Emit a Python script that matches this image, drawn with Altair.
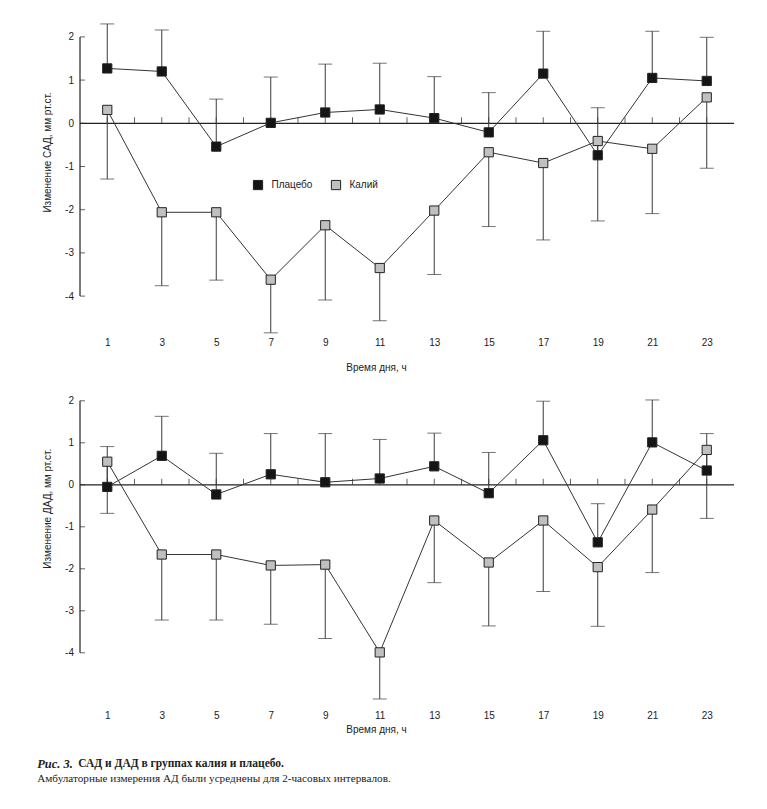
import altair as alt
import pandas as pd

# ---------------- data ----------------
hours = [1, 3, 5, 7, 9, 11, 13, 15, 17, 19, 21, 23]
groups = ["Плацебо", "Калий"]

# Top panel: change of systolic BP (САД)
sad_placebo = [1.27, 1.20, -0.54, 0.01, 0.25, 0.32, 0.12, -0.21, 1.15, -0.74, 1.05, 0.98]
sad_placebo_hi = [2.30, 2.16, 0.56, 1.07, 1.37, 1.39, 1.08, 0.71, 2.13, 0.36, 2.13, 1.99]
sad_kalii = [0.31, -2.06, -2.06, -3.62, -2.36, -3.35, -2.02, -0.67, -0.92, -0.41, -0.59, 0.60]
sad_kalii_lo = [-1.29, -3.76, -3.63, -4.85, -4.09, -4.57, -3.50, -2.39, -2.70, -2.26, -2.09, -1.04]

# Bottom panel: change of diastolic BP (ДАД)
dad_placebo = [-0.05, 0.69, -0.23, 0.25, 0.06, 0.15, 0.44, -0.20, 1.06, -1.37, 1.01, 0.34]
dad_placebo_hi = [0.91, 1.63, 0.75, 1.22, 1.22, 1.08, 1.23, 0.77, 1.99, -0.45, 2.02, 1.22]
dad_kalii = [0.55, -1.66, -1.66, -1.92, -1.90, -3.99, -0.85, -1.85, -0.85, -1.96, -0.59, 0.83]
dad_kalii_lo = [-0.68, -3.22, -3.22, -3.32, -3.66, -5.10, -2.33, -3.36, -2.54, -3.37, -2.09, -0.80]

y_ticks = [-4, -3, -2, -1, 0, 1, 2]
hour_ticks = list(range(1, 24))

x_title = "Время дня, ч"
y_title_top = "Изменение САД, мм рт.ст."
y_title_bottom = "Изменение ДАД, мм рт.ст."
caption_lead = "Рис. 3."
caption_bold = "САД и ДАД в группах калия и плацебо."
caption_note = "Амбулаторные измерения АД были усреднены для 2-часовых интервалов."

SANS = "Liberation Sans"
SERIF = "Liberation Serif"
INK = "#222222"
WIDTH = 654


def panel(placebo, placebo_hi, kalii, kalii_lo, ytitle, ydom, height,
          ytitle_y, xtitle_y, legend_y, extra=None):
    df = pd.DataFrame({
        "hour": hours * 2,
        "group": [groups[0]] * len(hours) + [groups[1]] * len(hours),
        "value": placebo + kalii,
        "end": placebo_hi + kalii_lo,
    })
    xs = alt.Scale(domain=[0, 24], nice=False, zero=False)
    ys = alt.Scale(domain=ydom, nice=False, zero=False)
    x_axis = alt.Axis(values=hours, domain=False, ticks=False, tickSize=0, grid=False,
                      labelPadding=3, labelFont=SANS, labelFontSize=10, labelColor=INK,
                      title=x_title, titleFont=SANS, titleFontSize=10, titleFontWeight="normal",
                      titleColor=INK, titleX=296, titleY=xtitle_y, titleBaseline="middle",
                      titleAlign="center")
    y_axis = alt.Axis(values=y_ticks, domain=False, ticks=False, tickSize=0, grid=False,
                      labelPadding=6.5, labelFont=SANS, labelFontSize=10, labelColor=INK,
                      labelFlush=False, labelExpr="'' + datum.value",
                      title=ytitle, titleFont=SANS, titleFontSize=10, titleFontWeight="normal",
                      titleColor=INK, titleX=-33, titleY=ytitle_y, titleAngle=270,
                      titleBaseline="middle", titleAlign="center")

    def X(field):
        return alt.X(field, scale=xs, axis=x_axis, title=x_title)

    def Y(field):
        return alt.Y(field, scale=ys, axis=y_axis, title=ytitle)

    axis_df = pd.DataFrame({"lo": [min(y_ticks)], "hi": [max(y_ticks)], "x0": [0], "x1": [24], "zero": [0]})
    y_line = alt.Chart(axis_df).mark_rule(color=INK, strokeWidth=1.2).encode(
        x=X("x0:Q"), y=Y("lo:Q"), y2="hi:Q")
    zero_line = alt.Chart(axis_df).mark_rule(color=INK, strokeWidth=1.2).encode(
        x=X("x0:Q"), x2="x1:Q", y=Y("zero:Q"))
    yt = alt.Chart(pd.DataFrame({"t": y_ticks, "x0": [0] * len(y_ticks)})).mark_tick(
        orient="horizontal", size=5, thickness=1, xOffset=2.5, color=INK).encode(
        x=X("x0:Q"), y=Y("t:Q"))
    xt = alt.Chart(pd.DataFrame({"h": hour_ticks, "zero": [0] * len(hour_ticks)})).mark_tick(
        orient="vertical", size=6, thickness=1, yOffset=-3, color=INK).encode(
        x=X("h:Q"), y=Y("zero:Q"))

    base = alt.Chart(df)
    err = base.mark_rule(color="#3a3a3a", strokeWidth=1).encode(
        x=X("hour:Q"), y=Y("value:Q"), y2="end:Q")
    caps = base.mark_tick(orient="horizontal", size=14, thickness=1, color="#3a3a3a").encode(
        x=X("hour:Q"), y=Y("end:Q"))
    lines = base.mark_line(color="#333333", strokeWidth=1).encode(
        x=X("hour:Q"), y=Y("value:Q"), detail="group:N", order="hour:Q")
    pts = base.mark_square(size=85, stroke=INK, strokeWidth=1, opacity=1).encode(
        x=X("hour:Q"), y=Y("value:Q"),
        color=alt.Color("group:N",
                        scale=alt.Scale(domain=groups, range=["#151515", "#c0c0c0"]),
                        legend=alt.Legend(title=None, orient="none", legendX=172.5, legendY=legend_y,
                                          direction="horizontal", symbolType="square",
                                          symbolSize=85, symbolStrokeColor=INK,
                                          symbolStrokeWidth=1, symbolOpacity=1,
                                          labelFont=SANS, labelFontSize=10, labelColor=INK,
                                          labelOffset=8, columnPadding=16, padding=0)))
    layers = [y_line, zero_line, yt, xt, err, caps, lines, pts]
    if extra:
        layers += extra
    return alt.layer(*layers).properties(width=WIDTH, height=height)


cap_df = pd.DataFrame({"lead": [caption_lead], "bold": [caption_bold], "note": [caption_note]})
cap1 = alt.Chart(cap_df).mark_text(font=SERIF, fontSize=12.5, fontWeight="bold", fontStyle="italic",
                                   align="left", baseline="middle", color=INK).encode(
    x=alt.value(-42.8), y=alt.value(367.9), text="lead:N")
cap2 = alt.Chart(cap_df).mark_text(font=SERIF, fontSize=11.5, fontWeight="bold",
                                   align="left", baseline="middle", color=INK).encode(
    x=alt.value(-1.8), y=alt.value(367.9), text="bold:N")
cap3 = alt.Chart(cap_df).mark_text(font=SERIF, fontSize=11.2, align="left", baseline="middle",
                                   color=INK).encode(
    x=alt.value(-42.8), y=alt.value(382.9), text="note:N")

top = panel(sad_placebo, sad_placebo_hi, sad_kalii, sad_kalii_lo, y_title_top,
            [-4.9, 2.4], 315.4, 132.4, 32.3, 159.5)
bottom = panel(dad_placebo, dad_placebo_hi, dad_kalii, dad_kalii_lo, y_title_bottom,
               [-5.3, 2.1], 310.8, 111.6, 22.1, 118.5, extra=[cap1, cap2, cap3])

chart = alt.vconcat(top, bottom, spacing=23).properties(
    padding={"left": 29, "top": 11.6, "right": 5, "bottom": 5},
    background="white",
).configure_view(stroke=None)

chart.save("out.html", embed_options={"renderer": "svg", "actions": False})
